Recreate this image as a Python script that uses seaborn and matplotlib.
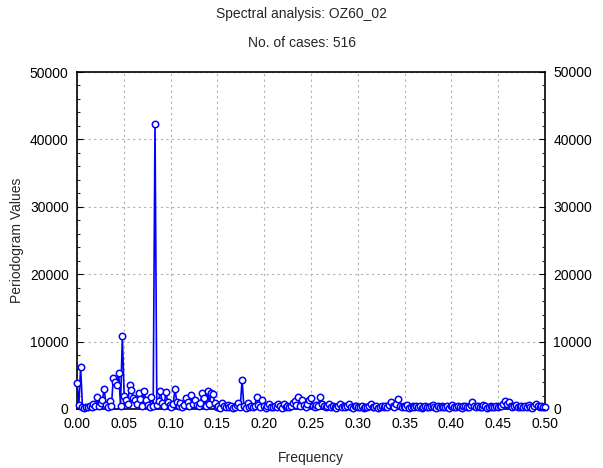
import numpy as np
import pandas as pd
import matplotlib
matplotlib.use("Agg")
import matplotlib.pyplot as plt
from matplotlib.ticker import MultipleLocator
import seaborn as sns

n_cases = 516
periodogram = [
    3800, 600, 6200, 300, 200, 350, 250, 400, 300, 700,
    500, 1800, 400, 900, 1300, 2950, 600, 300, 1200, 500,
    4600, 4000, 3500, 5400, 400, 10900, 1900, 1300, 800, 3550,
    2800, 1600, 1300, 700, 2350, 1500, 400, 2650, 1300, 600,
    300, 1800, 500, 42300, 600, 1200, 2700, 900, 400, 2550,
    1000, 600, 300, 700, 2950, 1100, 500, 900, 300, 600,
    1700, 1000, 500, 2100, 800, 1400, 600, 400, 900, 2300,
    1600, 500, 2700, 800, 2400, 2200, 850, 300, 500, 200,
    950, 400, 250, 600, 300, 500, 200, 350, 600, 850,
    300, 4300, 400, 200, 950, 300, 500, 250, 400, 1800,
    600, 300, 1300, 500, 200, 400, 700, 300, 250, 500,
    350, 700, 400, 200, 700, 300, 450, 250, 500, 900,
    1200, 600, 1800, 400, 1400, 600, 300, 800, 1300, 1600,
    500, 300, 600, 400, 1800, 700, 500, 300, 400, 750,
    250, 500, 300, 200, 450, 750, 300, 400, 250, 500,
    750, 300, 200, 400, 450, 250, 300, 500, 200, 350,
    300, 400, 750, 250, 300, 500, 200, 350, 400, 250,
    500, 300, 600, 1000, 400, 300, 700, 1500, 500, 250,
    400, 300, 550, 200, 350, 500, 250, 400, 300, 450,
    200, 350, 500, 300, 250, 400, 550, 300, 200, 400,
    350, 500, 250, 300, 450, 200, 400, 550, 300, 250,
    450, 350, 200, 400, 500, 300, 250, 600, 1100, 400,
    300, 500, 250, 350, 600, 400, 200, 300, 500, 350,
    250, 450, 300, 500, 400, 700, 1150, 800, 1100, 500,
    300, 450, 600, 250, 350, 500, 300, 400, 250, 550,
    350, 200, 400, 700, 500, 300, 400, 250, 350,
]
frequency = [k / n_cases for k in range(len(periodogram))]
y_ticks = [0, 10000, 20000, 30000, 40000, 50000]
x_ticks = [0.00, 0.05, 0.10, 0.15, 0.20, 0.25, 0.30, 0.35, 0.40, 0.45, 0.50]

df = pd.DataFrame({"Frequency": frequency, "Periodogram": periodogram})

sns.set_theme(style="white")
plt.rcParams["font.family"] = ["Liberation Sans", "DejaVu Sans"]

fig = plt.figure(figsize=(6.03, 4.68), dpi=100)
ax = fig.add_axes([77 / 603, 1 - 409 / 468, (545 - 77) / 603, (409 - 72) / 468])

sns.lineplot(data=df, x="Frequency", y="Periodogram", ax=ax, color="#0000FF",
             linewidth=1.2, marker="o", markersize=4.6, markerfacecolor="white",
             markeredgecolor="#0000FF", markeredgewidth=1.1, clip_on=False,
             zorder=3)

ax.set_xlim(0, 0.5)
ax.set_ylim(0, 50000)
ax.set_xticks(x_ticks)
ax.set_xticklabels([f"{t:.2f}" for t in x_ticks])
ax.set_yticks(y_ticks)
ax.set_yticklabels([str(t) for t in y_ticks])
ax.yaxis.set_minor_locator(MultipleLocator(2000))
ax.grid(True, which="major", color="#b0b0b0", linestyle=(0, (2, 3)), linewidth=0.8)
for s in ax.spines.values():
    s.set_color("black")
    s.set_linewidth(1.2)
ax.tick_params(axis="y", which="major", direction="in", length=4, width=0.8,
               labelsize=10, colors="black", pad=6)
ax.tick_params(axis="y", which="minor", direction="in", length=2.5, width=0.8, left=True)
ax.tick_params(axis="x", which="major", direction="in", length=3, width=0.8,
               labelsize=10, colors="black", pad=6)
ax.set_xlabel("")
ax.set_ylabel("")

ax2 = ax.twinx()
ax2.set_ylim(0, 50000)
ax2.set_yticks(y_ticks)
ax2.set_yticklabels([str(t) for t in y_ticks])
ax2.yaxis.set_minor_locator(MultipleLocator(2000))
ax2.tick_params(axis="y", which="major", direction="in", length=4, width=0.8,
                labelsize=10, colors="black", pad=6)
ax2.tick_params(axis="y", which="minor", direction="in", length=2.5, width=0.8, right=True)
ax2.grid(False)
for s in ax2.spines.values():
    s.set_visible(False)

fig.text(0.5, 1 - 14 / 468, "Spectral analysis: OZ60_02", ha="center", va="center", fontsize=10)
fig.text(0.5, 1 - 43 / 468, "No. of cases: 516", ha="center", va="center", fontsize=10)
fig.text(311 / 603, 1 - 458 / 468, "Frequency", ha="center", va="center", fontsize=10)
fig.text(17 / 603, 1 - 240 / 468, "Periodogram Values", ha="center", va="center",
         rotation=90, fontsize=10)

fig.savefig("out.png", dpi=100, facecolor="white")
